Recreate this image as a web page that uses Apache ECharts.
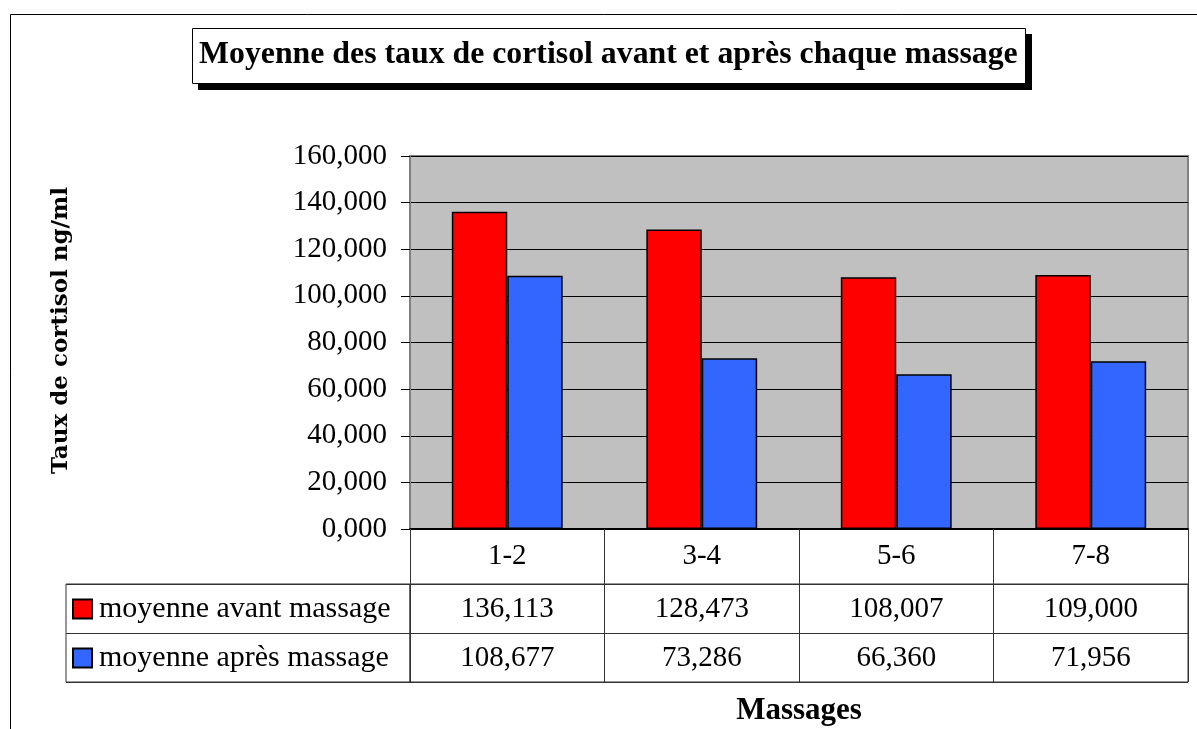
<!DOCTYPE html>
<html>
<head>
<meta charset="utf-8">
<script src="https://cdn.jsdelivr.net/npm/echarts@6/dist/echarts.min.js"></script>
<style>
html,body{margin:0;padding:0;background:#fff;}
#chart{width:1197px;height:729px;}
</style>
</head>
<body>
<div id="chart"></div>
<script>
var categories = ['1-2', '3-4', '5-6', '7-8'];
var seriesNames = ['moyenne avant massage', 'moyenne après massage'];
var avant = [136.113, 128.473, 108.007, 109.000];
var apres = [108.677, 73.286, 66.360, 71.956];
var yMin = 0, yMax = 160, yStep = 20;

var SERIF = "'Liberation Serif', 'Times New Roman', serif";
function fr(v) { return v.toFixed(3).replace('.', ','); }

var tableRows = [avant, apres];
var tableData = [];
tableRows.forEach(function (row, r) {
  row.forEach(function (v, c) { tableData.push([c, r, v]); });
});

var chart = echarts.init(document.getElementById('chart'));
chart.setOption({
  animation: false,
  backgroundColor: '#fff',
  title: {
    text: 'Moyenne des taux de cortisol avant et après chaque massage',
    left: 199, top: 36, padding: 0, z: 10,
    textStyle: { fontFamily: SERIF, fontWeight: 'bold', fontSize: 31.8, color: '#000', lineHeight: 38 }
  },
  legend: {
    data: seriesNames,
    orient: 'vertical',
    left: 72, top: 594,
    padding: 0,
    itemWidth: 19, itemHeight: 19,
    itemGap: 19,
    icon: 'rect',
    selectedMode: false,
    textStyle: { fontFamily: SERIF, fontSize: 30, color: '#000', lineHeight: 30, padding: [0, 0, 0, 2] }
  },
  graphic: [
    {
      type: 'rect', silent: true,
      shape: { x: 10.5, y: 14.5, width: 1400, height: 900 },
      style: { fill: 'none', stroke: '#000', lineWidth: 1 }
    },
    {
      type: 'rect', silent: true, z: 1,
      shape: { x: 198, y: 34, width: 834, height: 56 },
      style: { fill: '#000' }
    },
    {
      type: 'rect', silent: true, z: 2,
      shape: { x: 192.5, y: 28.5, width: 833, height: 55 },
      style: { fill: '#fff', stroke: '#000', lineWidth: 1 }
    }
  ],
  grid: [
    { left: 410, top: 156, width: 778, height: 373, show: true, backgroundColor: '#C0C0C0', borderColor: '#808080', borderWidth: 2, outerBoundsMode: 'none', containLabel: false },
    { left: 410, top: 584, width: 778, height: 98, show: true, backgroundColor: 'transparent', borderColor: '#333', borderWidth: 1, outerBoundsMode: 'none' },
    { left: 66, top: 584, width: 344, height: 98, show: true, backgroundColor: 'transparent', borderColor: '#333', borderWidth: 1, outerBoundsMode: 'none' }
  ],
  xAxis: [
    {
      gridIndex: 0, type: 'category', data: categories,
      name: 'Massages', nameLocation: 'middle', nameGap: 166,
      nameTextStyle: { fontFamily: SERIF, fontWeight: 'bold', fontSize: 31, color: '#000' },
      axisLine: { show: true, lineStyle: { color: '#000', width: 2 } },
      axisTick: { show: true, interval: 0, length: 153, lineStyle: { color: '#333', width: 1 } },
      axisLabel: { interval: 0, margin: 13, fontFamily: SERIF, fontSize: 29, color: '#000' },
      splitLine: { show: false }
    },
    {
      gridIndex: 1, type: 'category', data: categories,
      axisLine: { show: false }, axisTick: { show: false }, axisLabel: { show: false }, splitLine: { show: false }
    },
    {
      gridIndex: 2, type: 'category', data: [''],
      axisLine: { show: false }, axisTick: { show: false }, axisLabel: { show: false }, splitLine: { show: false }
    }
  ],
  yAxis: [
    {
      gridIndex: 0, type: 'value', min: yMin, max: yMax, interval: yStep,
      name: 'Taux de cortisol ng/ml', nameLocation: 'middle', nameRotate: 90, nameGap: 337,
      nameTextStyle: { fontFamily: "'DejaVu Serif', serif", fontWeight: 'bold', fontSize: 23, color: '#000', padding: [0, 0, 0, 24] },
      axisLine: { show: true, lineStyle: { color: '#808080', width: 2 } },
      axisTick: { show: true, length: 9, lineStyle: { color: '#000', width: 1 } },
      axisLabel: { margin: 23, fontFamily: SERIF, fontSize: 29, color: '#000', formatter: function (v) { return fr(v); } },
      splitLine: { show: true, lineStyle: { color: '#000', width: 1 } }
    },
    {
      gridIndex: 1, type: 'category', data: seriesNames, inverse: true,
      axisLine: { show: false }, axisTick: { show: false }, axisLabel: { show: false },
      splitLine: { show: true, interval: 0, lineStyle: { color: '#333', width: 1 } }
    },
    {
      gridIndex: 2, type: 'category', data: seriesNames, inverse: true,
      axisLine: { show: false }, axisTick: { show: false }, axisLabel: { show: false },
      splitLine: { show: true, interval: 0, lineStyle: { color: '#333', width: 1 } }
    }
  ],
  series: [
    {
      name: seriesNames[0], type: 'bar', xAxisIndex: 0, yAxisIndex: 0, data: avant,
      barGap: '0%', barCategoryGap: '43%',
      itemStyle: { color: '#FF0000', borderColor: '#000', borderWidth: 1.5 }
    },
    {
      name: seriesNames[1], type: 'bar', xAxisIndex: 0, yAxisIndex: 0, data: apres,
      barGap: '0%', barCategoryGap: '43%',
      itemStyle: { color: '#3366FF', borderColor: '#000', borderWidth: 1.5 }
    },
    {
      type: 'custom', xAxisIndex: 1, yAxisIndex: 1, data: tableData, silent: true,
      renderItem: function (params, api) {
        var p = api.coord([api.value(0), api.value(1)]);
        return {
          type: 'text',
          style: {
            x: p[0], y: p[1] + 1, text: fr(api.value(2)),
            align: 'center', verticalAlign: 'middle',
            fontFamily: SERIF, fontSize: 29, fill: '#000'
          }
        };
      }
    }
  ]
});
</script>
</body>
</html>
